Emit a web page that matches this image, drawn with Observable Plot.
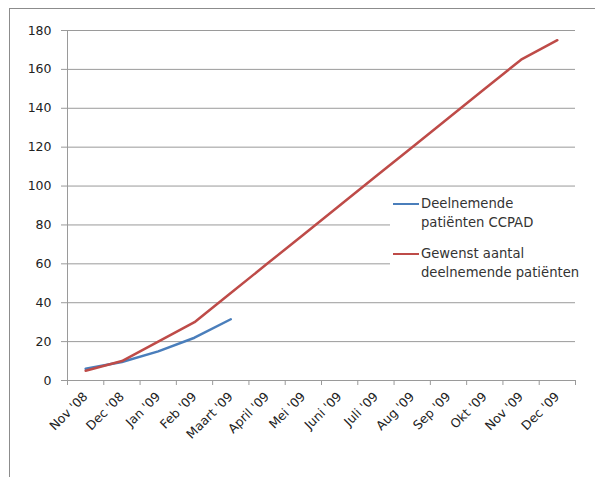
<!DOCTYPE html>
<html><head><meta charset="utf-8">
<script src="https://cdn.jsdelivr.net/npm/d3@7"></script>
<script src="https://cdn.jsdelivr.net/npm/@observablehq/plot@0.6"></script>
<style>
body{margin:0;background:#fff;}
#wrap{position:relative;width:595px;height:477px;overflow:hidden;font-family:"DejaVu Sans",sans-serif;}
#frame{position:absolute;left:9px;top:8px;width:700px;height:600px;border-left:1px solid #8c8c8c;border-top:1px solid #8c8c8c;}
#chart{position:absolute;left:0;top:0;}
#legend{position:absolute;left:390px;top:190px;width:185px;height:100px;background:#fff;font-size:13.2px;color:#333;}
.item{position:absolute;left:3px;}
.sw{position:absolute;left:0;width:26px;height:0;border-top:2.5px solid;}
.lbl{position:absolute;left:28px;line-height:19px;white-space:nowrap;}
</style></head>
<body><div id="wrap"><div id="frame"></div><div id="chart"></div><div id="legend"></div></div>
<script>
const months = ["Nov '08","Dec '08","Jan '09","Feb '09","Maart '09","April '09","Mei '09","Juni '09","Juli '09","Aug '09","Sep '09","Okt '09","Nov '09","Dec '09"];
const deelnemend = [6, 9.5, 15, 22, 31.5];
const gewenst = [5, 10, 20, 30, 45, 60, 75, 90, 105, 120, 135, 150, 165, 175];
const yTicks = [0, 20, 40, 60, 80, 100, 120, 140, 160, 180];
const seriesNames = [["Deelnemende", "patiënten CCPAD"], ["Gewenst aantal", "deelnemende patiënten"]];
const colors = ["#4a7ebb", "#be4b48"];

const blue = deelnemend.map((v, i) => ({i, v}));
const red = gewenst.map((v, i) => ({i, v}));
const idx = d3.range(months.length);
const bounds = d3.range(months.length + 1).map(i => i - 0.5);

const chart = Plot.plot({
  width: 595, height: 477,
  marginLeft: 67, marginRight: 20, marginTop: 30, marginBottom: 97,
  style: {fontFamily: "'DejaVu Sans', sans-serif", fontSize: "12.5px", color: "#222", background: "transparent"},
  x: {type: "linear", domain: [-0.5, months.length - 0.5]},
  y: {domain: [0, 180]},
  marks: [
    Plot.gridY(yTicks, {stroke: "#9a9a9a", strokeOpacity: 1}),
    Plot.ruleX([-0.5], {stroke: "#9a9a9a"}),
    Plot.ruleY([0], {stroke: "#9a9a9a"}),
    Plot.axisY(yTicks, {tickSize: 6, tickPadding: 10, label: null, stroke: "#9a9a9a"}),
    Plot.axisX(bounds, {tickSize: 5, tickFormat: () => "", label: null, stroke: "#9a9a9a"}),
    Plot.axisX(idx, {tickSize: 0, tickFormat: i => months[i], tickRotate: -45, tickPadding: 14, label: null}),
    Plot.line(blue, {x: "i", y: "v", stroke: colors[0], strokeWidth: 2.5}),
    Plot.line(red, {x: "i", y: "v", stroke: colors[1], strokeWidth: 2.5})
  ]
});
document.getElementById("chart").appendChild(chart);

const legend = document.getElementById("legend");
const tops = [4, 54];
seriesNames.forEach((lines, k) => {
  const it = document.createElement("div");
  it.className = "item";
  it.style.top = tops[k] + "px";
  const sw = document.createElement("div");
  sw.className = "sw";
  sw.style.borderColor = colors[k];
  sw.style.top = "9px";
  const lb = document.createElement("div");
  lb.className = "lbl";
  lb.innerHTML = lines.join("<br>");
  it.appendChild(sw); it.appendChild(lb);
  legend.appendChild(it);
});
</script></body></html>
